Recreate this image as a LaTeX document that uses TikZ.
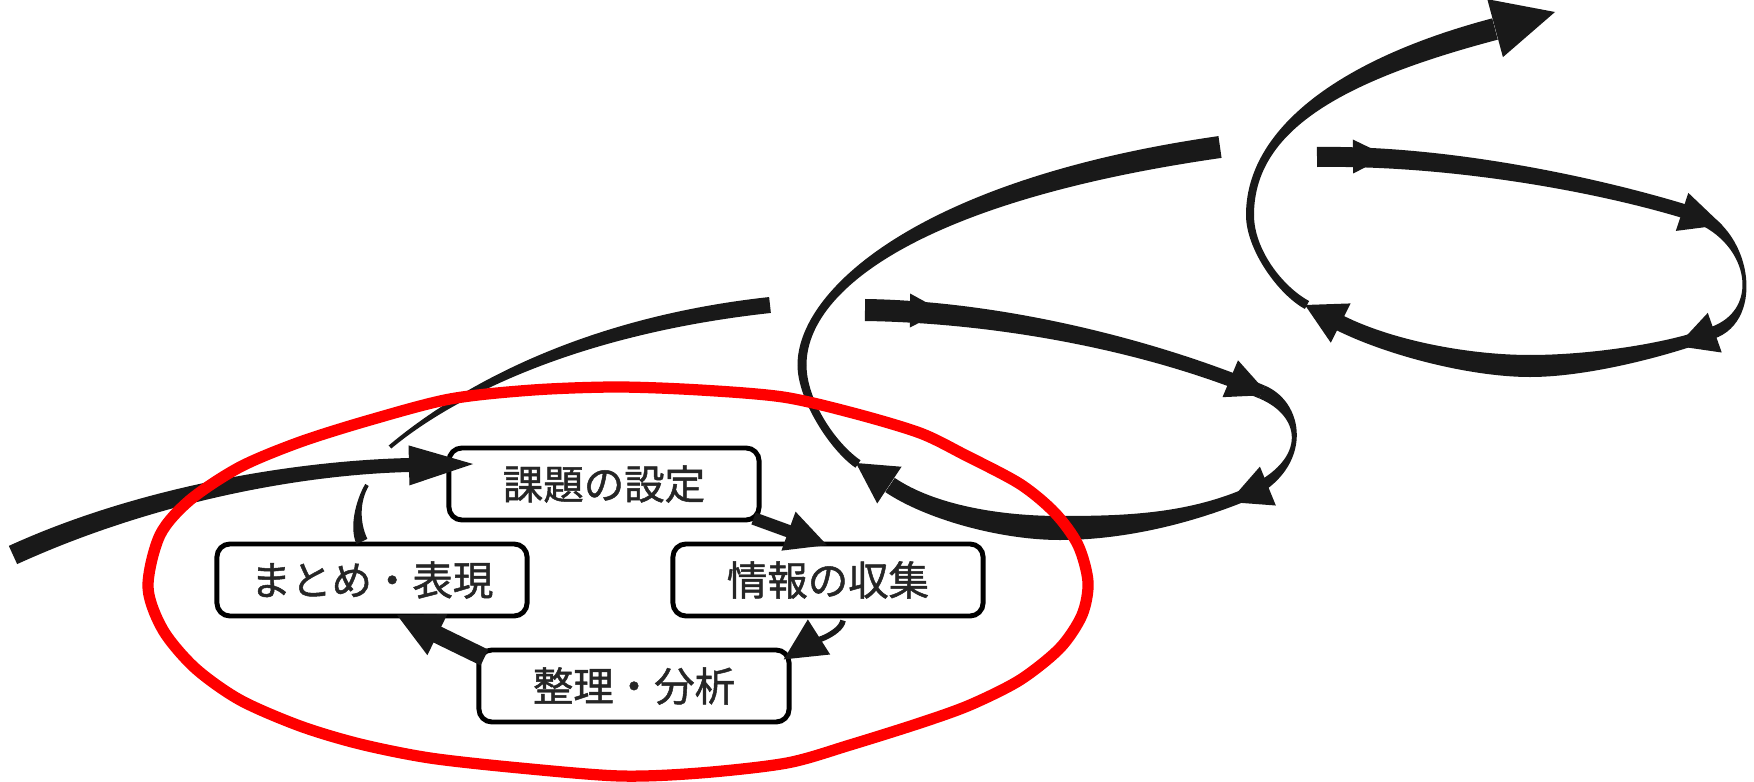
\documentclass[tikz,border=0pt]{standalone}
\usepackage{fontspec}
\newfontfamily\jp[FakeBold=1.2]{Noto Sans CJK JP}
\usetikzlibrary{calc,arrows.meta}

\newcommand{\brush}[6]{%
  \fill ($(#1)!#5!90:(#2)$) .. controls ($(#2)!#5!-90:(#1)$) and ($(#3)!#6!90:(#4)$) .. ($(#4)!#6!-90:(#3)$)
    -- ($(#4)!#6!90:(#3)$) .. controls ($(#3)!#6!-90:(#4)$) and ($(#2)!#5!90:(#1)$) .. ($(#1)!#5!-90:(#2)$) -- cycle;}

\newcommand{\barb}[4]{%
  \coordinate (hb) at ($(#2)!#3!(#1)$);
  \fill (#2) -- ($(hb)!#4!90:(#2)$) -- ($(hb)!#4!-90:(#2)$) -- cycle;}

\begin{document}
\begin{tikzpicture}[x=0.01cm, y=-0.01cm,
    box/.style={draw, line width=1.4pt, rounded corners=0.13cm, fill=white,
      minimum width=3.1cm, minimum height=0.72cm, text=black!85,
      font=\jp\fontsize{11.5pt}{13pt}\selectfont},
    link/.style={draw=black!90, line width=3.6pt}]
                \useasboundingbox (0,0) rectangle (1754,782);

                \node[box] (kadai) at (604,484) {課題の設定};

                \node[box] (joho) at (828,580) {情報の収集};

                \node[box] (seiri) at (634,686) {整理・分析};

                \node[box] (matome) at (372,580) {まとめ・表現};

                \begin{scope}[black!90]
                \brush{13,555}{140,497}{290,468}{409,465}{0.1cm}{0.07cm}
                \barb{290,468}{473,464}{0.64cm}{0.2cm}

                \draw[link, -{Triangle[length=0.42cm, width=0.38cm]}] ($(kadai.south east)+(-8,-4)$) -- ($(joho.north)+(0,4)$);

                \draw[link, line width=1.6pt, -{Triangle[length=0.42cm, width=0.4cm]}] ($(joho.south)+(15,2)$) .. controls +(-2,14) and +(22,-14) .. ($(seiri.north east)+(-8,12)$);

                \draw[link, line width=5pt, -{Triangle[length=0.46cm, width=0.42cm]}] ($(seiri.north west)+(8,10)$) -- ($(matome.south)+(24,-4)$);

                \coordinate (up) at ($(matome.north)+(-10,0)$);
                \brush{up}{354,525}{358,500}{367,485}{0.06cm}{0.02cm}
                \brush{390,447}{440,405}{560,328}{770,305}{0.02cm}{0.08cm}

                \brush{865,310}{1000,312}{1150,345}{1262,392}{0.11cm}{0.07cm}
                \brush{1262,392}{1305,410}{1312,468}{1240,497}{0.07cm}{0.06cm}
                \brush{1240,497}{1182,520}{1120,528}{1060,528}{0.06cm}{0.12cm}
                \brush{1060,528}{1000,528}{930,512}{890,485}{0.12cm}{0.085cm}
                \brush{858,464}{833,447}{802,400}{802,365}{0.045cm}{0.045cm}
                \brush{802,365}{802,290}{920,190}{1220,147}{0.045cm}{0.11cm}
                \barb{865,310}{942,311}{0.32cm}{0.17cm}
                \barb{1150,345}{1269,395}{0.42cm}{0.2cm}
                \barb{1312,468}{1229,502}{0.42cm}{0.21cm}
                \barb{930,512}{856,463}{0.4cm}{0.22cm}

                \brush{1317,157}{1450,155}{1600,185}{1690,213}{0.1cm}{0.07cm}
                \brush{1690,213}{1750,232}{1765,315}{1712,333}{0.07cm}{0.06cm}
                \brush{1712,333}{1670,349}{1590,366}{1530,366}{0.06cm}{0.11cm}
                \brush{1530,366}{1470,366}{1390,348}{1340,323}{0.11cm}{0.08cm}
                \brush{1307,305}{1281,291}{1250,250}{1250,215}{0.045cm}{0.04cm}
                \brush{1250,215}{1250,130}{1340,70}{1495,29}{0.04cm}{0.11cm}
                \barb{1317,157}{1387,156}{0.34cm}{0.17cm}
                \barb{1600,185}{1722,225}{0.42cm}{0.2cm}
                \barb{1765,315}{1677,346}{0.4cm}{0.21cm}
                \barb{1390,348}{1305,305}{0.4cm}{0.22cm}
                \barb{1340,70}{1555,12}{0.62cm}{0.3cm}
                \end{scope}

                \draw[red, line width=3.2pt] plot[smooth cycle] coordinates {(148,587) (160,535) (190,500) (240,467) (300,442) (370,420) (450,399) (533,390) (617,387) (700,390) (783,397) (853,413) (920,433) (965,455) (1020,484) (1055,513) (1078,545) (1088,582) (1082,615) (1060,648) (1020,680) (970,705) (920,723) (850,745) (787,763) (700,773) (620,776) (520,768) (430,758) (360,744) (300,726) (240,700) (195,668) (163,630)};
\end{tikzpicture}
\end{document}
